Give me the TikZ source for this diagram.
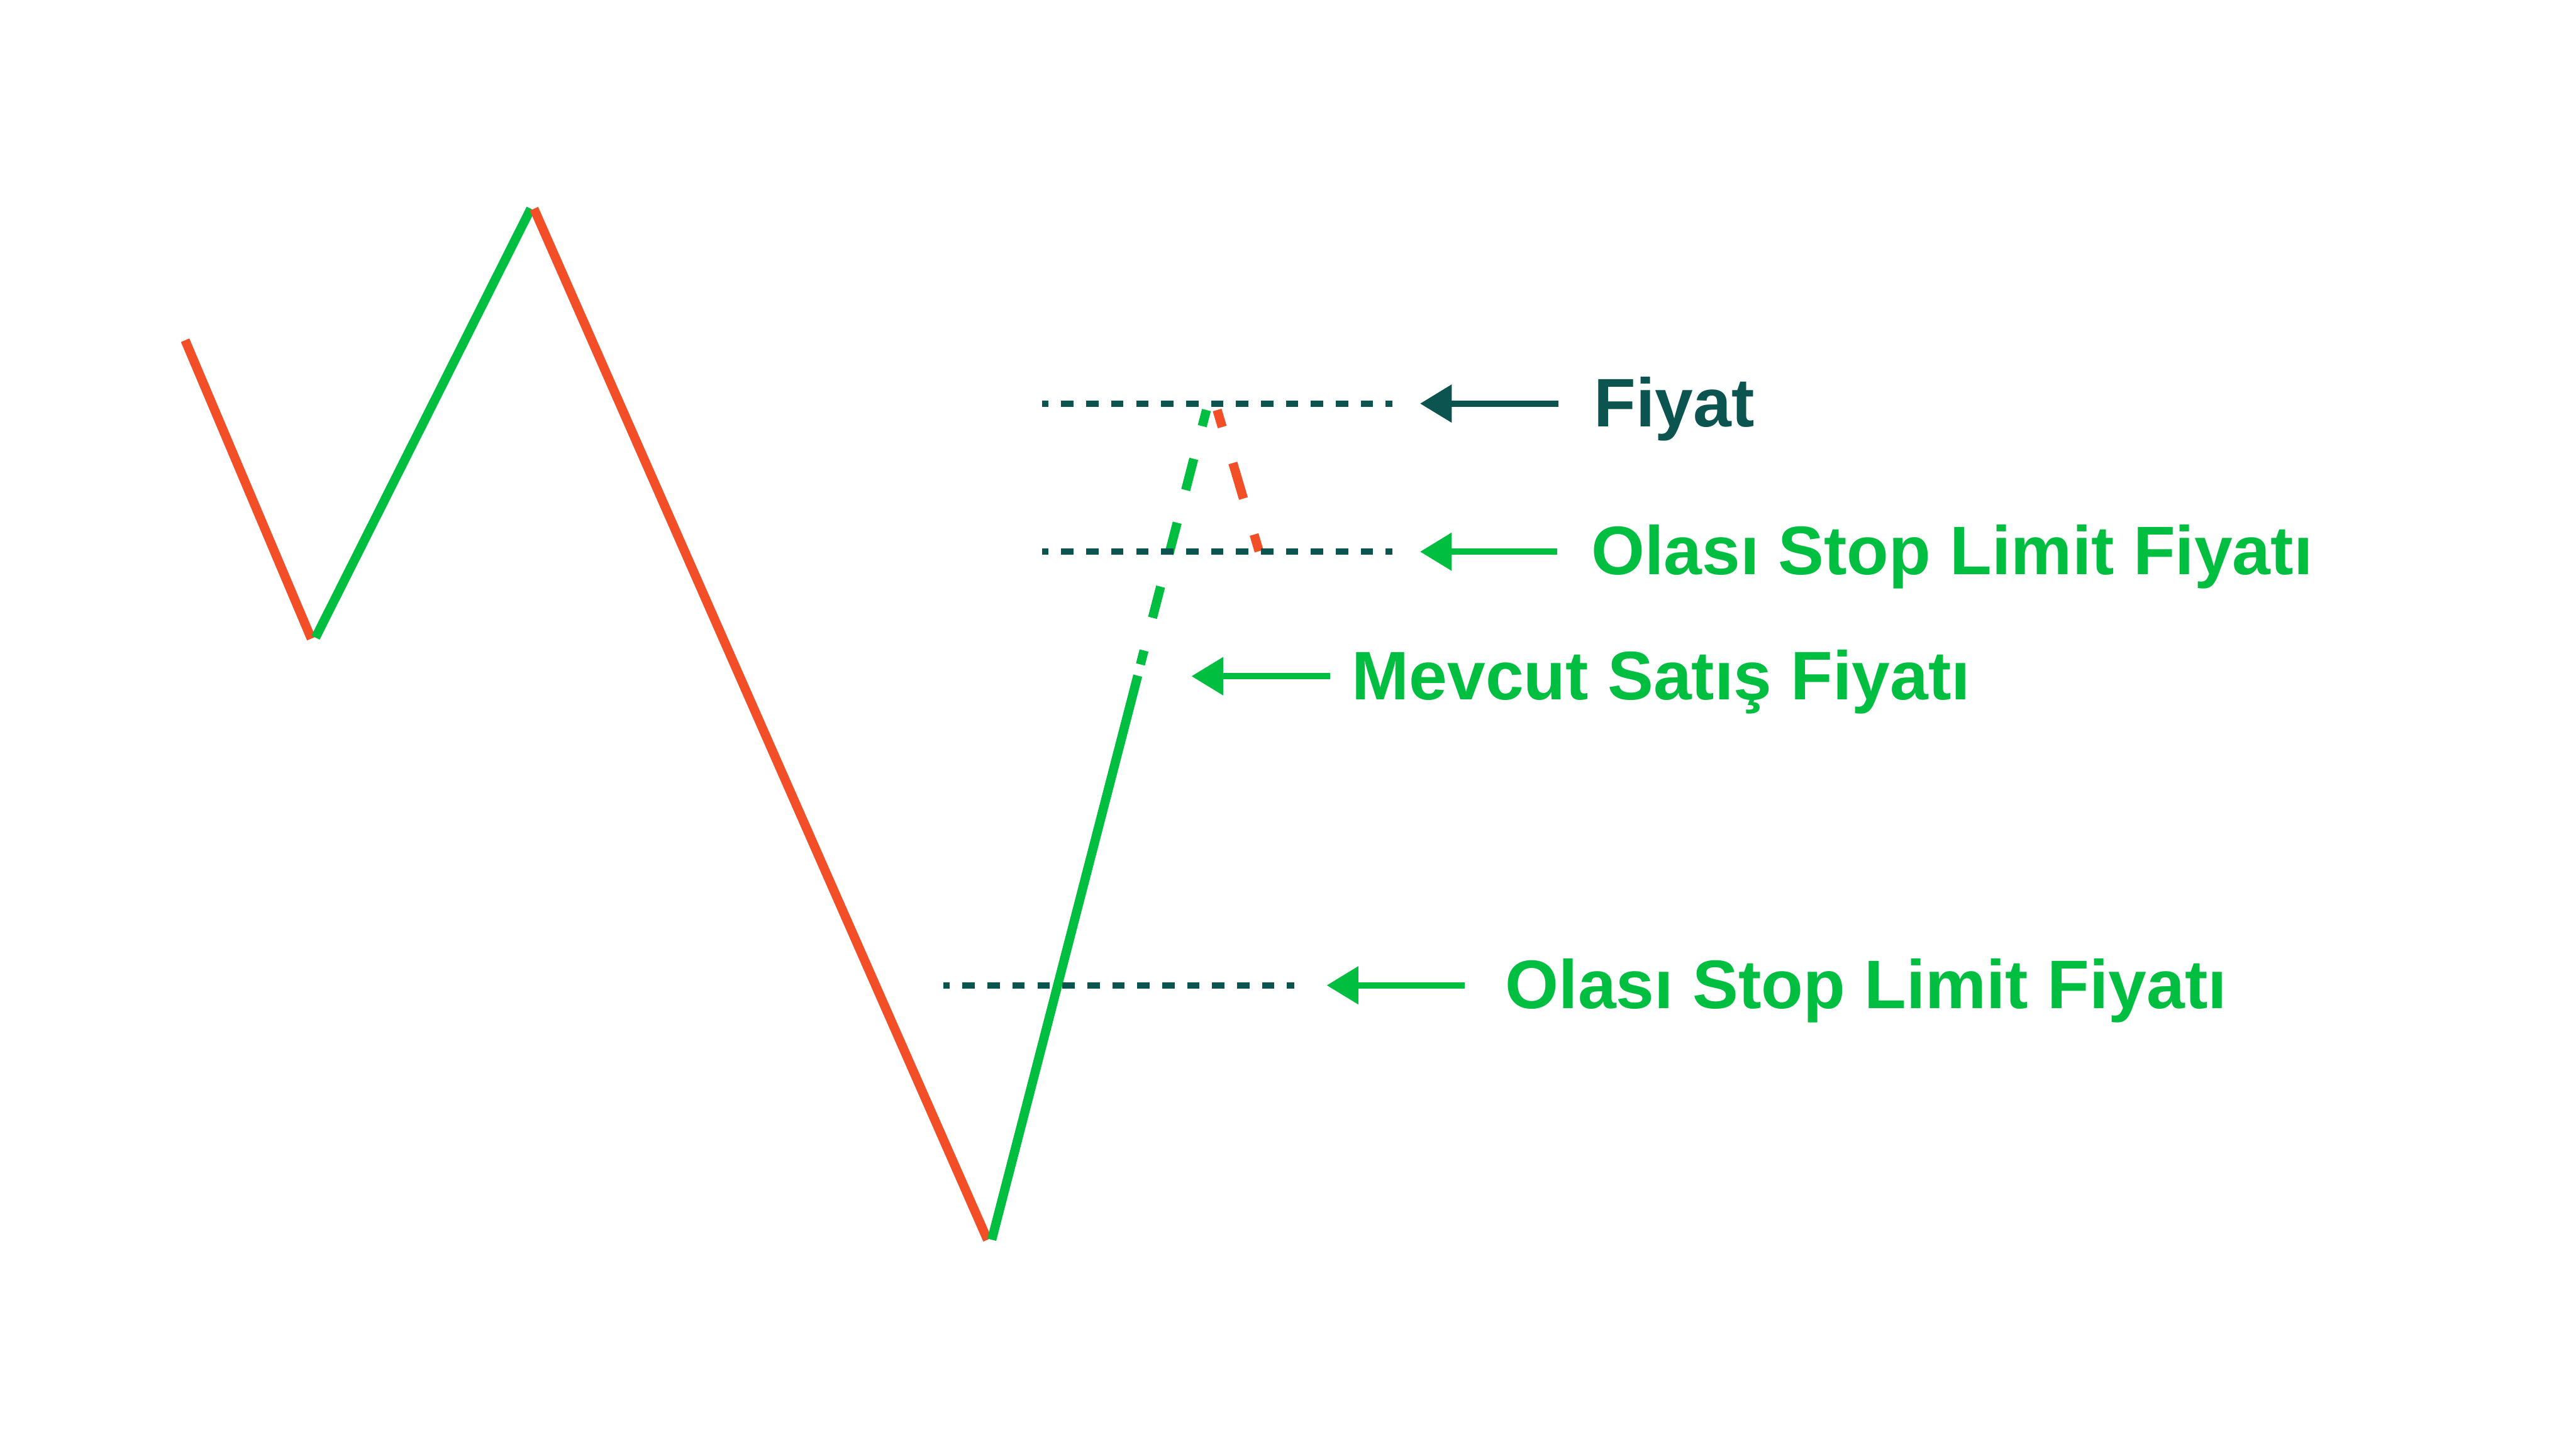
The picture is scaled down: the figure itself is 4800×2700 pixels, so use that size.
\documentclass[tikz,border=0pt]{standalone}
\usepackage{fontspec}
\setmainfont{Liberation Sans}
\usetikzlibrary{arrows.meta}
\definecolor{upcolor}{RGB}{0,190,64}
\definecolor{downcolor}{RGB}{242,78,40}
\definecolor{levelcolor}{RGB}{11,84,80}

\begin{document}
\begin{tikzpicture}[
    x=1pt, y=-1pt,
    up/.style={draw=upcolor, line width=17pt},
    down/.style={draw=downcolor, line width=17pt},
    level/.style={draw=levelcolor, line width=12pt, dash pattern=on 23pt off 23.5pt, dash phase=11pt},
    pointer/.style={-{Triangle[length=59pt, width=68pt]}, line width=12pt},
    lbl/.style={anchor=base west, inner sep=0pt, font=\bfseries\fontsize{128}{150}\selectfont}
]
\useasboundingbox[fill=white] (0,0) rectangle (4800,2700);

% price path
\coordinate (start) at (345,634);
\coordinate (lowAr) at (580,1190);
\coordinate (lowAg) at (588,1188);
\coordinate (highg) at (989,389);
\coordinate (highr) at (995,389);
\coordinate (lowBr) at (1840,2310);
\coordinate (lowBg) at (1848,2310);
\coordinate (solidEnd) at (2120,1259);
\coordinate (dashEnd) at (2125,1238);
\coordinate (topg) at (2248,764);
\coordinate (topr) at (2268,764);
\coordinate (stopr) at (2346,1027);

\draw[down] (start) -- (lowAr);
\draw[up] (lowAg) -- (highg);
\draw[down] (highr) -- (lowBr);
\draw[up] (lowBg) -- (solidEnd);
\draw[up, dash pattern=on 60pt off 63pt, dash phase=29pt] (topg) -- (dashEnd);
\draw[down, dash pattern=on 69pt off 70pt, dash phase=36pt] (topr) -- (stopr);

% levels
\draw[level] (1942,752) -- (2595,752);
\draw[level] (1942,1028) -- (2595,1028);
\draw[level] (1758,1836) -- (2412,1836);

% labels
\node[lbl, text=levelcolor] (fiyat) at (2970,795) {Fiyat};
\node[lbl, text=upcolor] (stopA) at (2965,1071) {Olası Stop Limit Fiyatı};
\node[lbl, text=upcolor] (mevcut) at (2519,1304) {Mevcut Satış Fiyatı};
\node[lbl, text=upcolor] (stopB) at (2805,1879) {Olası Stop Limit Fiyatı};

\coordinate (fiyatTail) at (2904,752);
\coordinate (fiyatTip) at (2646,752);
\coordinate (stopATail) at (2902,1028);
\coordinate (stopATip) at (2646,1028);
\coordinate (mevcutTail) at (2478,1260);
\coordinate (mevcutTip) at (2220,1260);
\coordinate (stopBTail) at (2729,1836);
\coordinate (stopBTip) at (2472,1836);

\draw[pointer, levelcolor] (fiyatTail) -- (fiyatTip);
\draw[pointer, upcolor] (stopATail) -- (stopATip);
\draw[pointer, upcolor] (mevcutTail) -- (mevcutTip);
\draw[pointer, upcolor] (stopBTail) -- (stopBTip);
\end{tikzpicture}
\end{document}
